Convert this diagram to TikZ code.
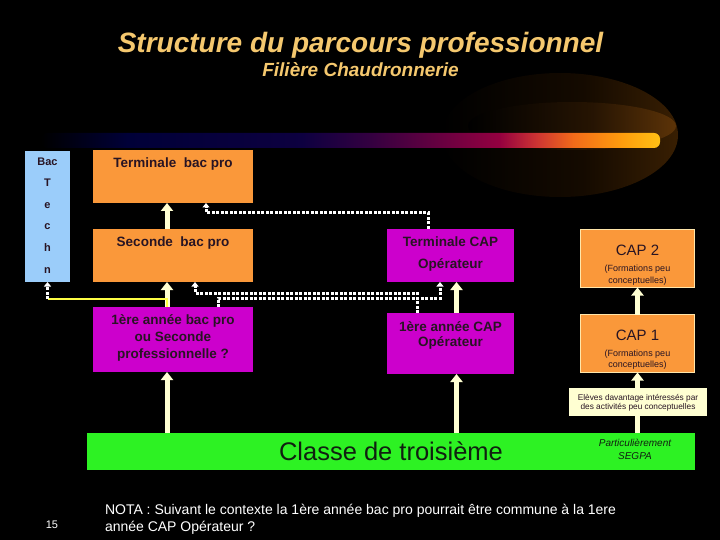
\documentclass[tikz,border=0pt]{standalone}
\usepackage{fontspec}
\setmainfont{Liberation Sans}
\usetikzlibrary{arrows.meta}
\definecolor{titlecol}{RGB}{245,200,110}
\definecolor{boxorange}{RGB}{250,152,58}
\definecolor{boxmag}{RGB}{204,0,204}
\definecolor{boxblue}{RGB}{155,205,250}
\definecolor{boxgreen}{RGB}{45,242,35}
\definecolor{cream}{RGB}{255,255,210}
\definecolor{darktxt}{RGB}{40,20,35}
\definecolor{greentxt}{RGB}{16,32,16}
\definecolor{yell}{RGB}{255,255,70}
\definecolor{capborder}{RGB}{255,230,170}
\pgfdeclarehorizontalshading{barshade}{100bp}{rgb(0bp)=(0,0,0); rgb(25bp)=(0,0,0); rgb(32bp)=(0,0,0.22); rgb(46bp)=(0.05,0,0.25); rgb(51.5bp)=(0.2,0,0.25); rgb(56.5bp)=(0.38,0,0.25); rgb(62bp)=(0.58,0,0.25); rgb(65bp)=(0.8,0.2,0.2); rgb(68bp)=(0.95,0.42,0.1); rgb(72bp)=(1,0.62,0.05); rgb(75bp)=(1,0.75,0.08); rgb(100bp)=(1,0.75,0.08)}
\pgfdeclarehorizontalshading{glowshade}{100bp}{rgb(0bp)=(0,0,0); rgb(25bp)=(0,0,0); rgb(55bp)=(0.08,0.04,0); rgb(75bp)=(0.22,0.12,0.01); rgb(100bp)=(0.22,0.12,0.01)}
\pgfdeclarehorizontalshading{glowinner}{100bp}{rgb(0bp)=(0,0,0); rgb(25bp)=(0,0,0); rgb(55bp)=(0.15,0.08,0.01); rgb(75bp)=(0.36,0.2,0.03); rgb(100bp)=(0.36,0.2,0.03)}
\begin{document}
\begin{tikzpicture}[x=1pt,y=-1pt,
  every node/.style={inner sep=0pt,outer sep=0pt},
  obox/.style={fill=boxorange,minimum width=160pt,minimum height=53pt},
  mbox/.style={fill=boxmag,minimum width=127pt},
  capbox/.style={fill=boxorange,draw=capborder,line width=1.5pt,minimum width=114pt,minimum height=58pt},
  btxt/.style={text=darktxt,font=\fontsize{13.5}{17}\selectfont\bfseries,anchor=base},
  smalltxt/.style={text=darktxt,font=\fontsize{9}{10}\selectfont,anchor=base},
  bigarrow/.style={draw=cream,line width=5pt,-{Triangle[width=12pt,length=8pt]}},
  dotarrow/.style={draw=white,line width=3pt,dash pattern=on 3pt off 1.5pt,-{Triangle[width=7pt,length=4.5pt]}},
  yelline/.style={draw=yell,line width=2.5pt}]
\fill[black] (0,0) rectangle (720,540);
\useasboundingbox (0,0) rectangle (720,540);
% decorative glow and bar
\shade[shading=glowshade] (560,135) ellipse [x radius=118, y radius=62];
\shade[shading=glowinner] (572,126) ellipse [x radius=104, y radius=24];
\shade[shading=barshade,rounded corners=6pt] (41,133) rectangle (660,148);
% titles
\node[anchor=base,text=titlecol,font=\fontsize{28}{32}\selectfont\bfseries\itshape] (title) at (360.5,53) {Structure du parcours professionnel};
\node[anchor=base,text=titlecol,font=\fontsize{19}{22}\selectfont\bfseries\itshape] (subtitle) at (360.5,77) {Filière Chaudronnerie};
% boxes
\node[fill=boxblue,minimum width=45pt,minimum height=131pt] (bac) at (47.5,216.5) {};
\node[anchor=north,align=center,text=darktxt,font=\fontsize{11}{21.6}\selectfont\bfseries] (bactxt) at (47.5,157.5) {Bac\\T\\e\\c\\h\\n};
\node[obox] (terminale) at (173,176.5) {};
\node[btxt] (terminaletxt) at (173,168) {Terminale\ \ bac pro};
\node[obox] (seconde) at (173,255.5) {};
\node[btxt] (secondetxt) at (173,246) {Seconde\ \ bac pro};
\node[fill=boxmag,minimum width=160pt,minimum height=65pt] (premiere) at (173,339.5) {};
\node[btxt] (premtxta) at (173,324) {1ère année bac pro};
\node[btxt] (premtxtb) at (173,341) {ou Seconde};
\node[btxt] (premtxtc) at (173,358) {professionnelle ?};
\node[mbox,minimum height=53pt] (termcap) at (450.5,255.5) {};
\node[btxt] (termcaptxta) at (450.5,246) {Terminale CAP};
\node[btxt] (termcaptxtb) at (450.5,268) {Opérateur};
\node[mbox,minimum height=61pt] (premcap) at (450.5,343.5) {};
\node[btxt] (premcaptxta) at (450.5,331) {1ère année CAP};
\node[btxt] (premcaptxtb) at (450.5,346) {Opérateur};
\node[capbox] (cap2) at (637.5,258.5) {};
\node[anchor=base,text=darktxt,font=\fontsize{15}{18}\selectfont] (cap2txt) at (637.5,255) {CAP 2};
\node[smalltxt] (cap2txtb) at (637.5,271.5) {(Formations peu};
\node[smalltxt] (cap2txtc) at (637.5,283) {conceptuelles)};
\node[capbox] (cap1) at (637.5,343.5) {};
\node[anchor=base,text=darktxt,font=\fontsize{15}{18}\selectfont] (cap1txt) at (637.5,340) {CAP 1};
\node[smalltxt] (cap1txtb) at (637.5,356.5) {(Formations peu};
\node[smalltxt] (cap1txtc) at (637.5,367.5) {conceptuelles)};
\node[fill=boxgreen,minimum width=478pt,minimum height=37pt] (troisieme) at (326,451.5) {};
\node[anchor=base,text=greentxt,font=\fontsize{25.5}{28}\selectfont] (troisiemetxt) at (391,460) {Classe de troisième};
\node[fill=boxgreen,minimum width=130pt,minimum height=37pt] (segpa) at (630,451.5) {};
\node[anchor=base,text=greentxt,font=\fontsize{10}{12}\selectfont\itshape] (segpatxta) at (635,446.5) {Particulièrement};
\node[anchor=base,text=greentxt,font=\fontsize{10}{12}\selectfont\itshape] (segpatxtb) at (635,459) {SEGPA};
% solid arrows
\coordinate (xa) at ([xshift=-6pt]premiere.south);
\coordinate (xb) at ([xshift=6pt]premcap.south);
\draw[bigarrow] (xa |- troisieme.north) -- (xa |- premiere.south);
\draw[bigarrow] (xa |- premiere.north) -- (xa |- seconde.south);
\draw[bigarrow] (xa |- seconde.north) -- (xa |- terminale.south);
\draw[bigarrow] (xb |- troisieme.north) -- (xb |- premcap.south);
\draw[bigarrow] (xb |- premcap.north) -- (xb |- termcap.south);
\draw[bigarrow] (cap1.south |- segpa.north) -- (cap1.south);
\draw[bigarrow] (cap1.north) -- (cap2.south);
\node[fill=cream,minimum width=138pt,minimum height=28pt] (eleves) at (638,402) {};
\node[smalltxt,font=\fontsize{8.3}{9.5}\selectfont] (elevestxta) at (638,400) {Elèves davantage intéressés par};
\node[smalltxt,font=\fontsize{8.3}{9.5}\selectfont] (elevestxtb) at (638,409.5) {des activités peu conceptuelles};
% dotted connectors
\draw[dotarrow] ([xshift=-22.5pt]termcap.north) -- ++(0,-16) -| ([xshift=33pt]terminale.south);
\draw[dotarrow] ([xshift=45pt]premiere.north) -- ++(0,-9) -| ([xshift=-10.5pt]termcap.south);
\draw[dotarrow] ([xshift=-33.5pt]premcap.north) -- ++(0,-20) -| ([xshift=22pt]seconde.south);
\coordinate (ycorner) at (47.5,299);
\draw[yelline] (xa |- premiere.north) |- (ycorner);
\draw[dotarrow] (ycorner) -- (bac.south);
% footer
\node[anchor=base,text=white,font=\fontsize{11}{13}\selectfont] (pagenum) at (52,528) {15};
\node[anchor=base west,text=white,font=\fontsize{14}{17}\selectfont] (notaa) at (105,514) {NOTA : Suivant le contexte la 1ère année bac pro pourrait être commune à la 1ere};
\node[anchor=base west,text=white,font=\fontsize{14}{17}\selectfont] (notab) at (105,531) {année CAP Opérateur ?};
\end{tikzpicture}
\end{document}
